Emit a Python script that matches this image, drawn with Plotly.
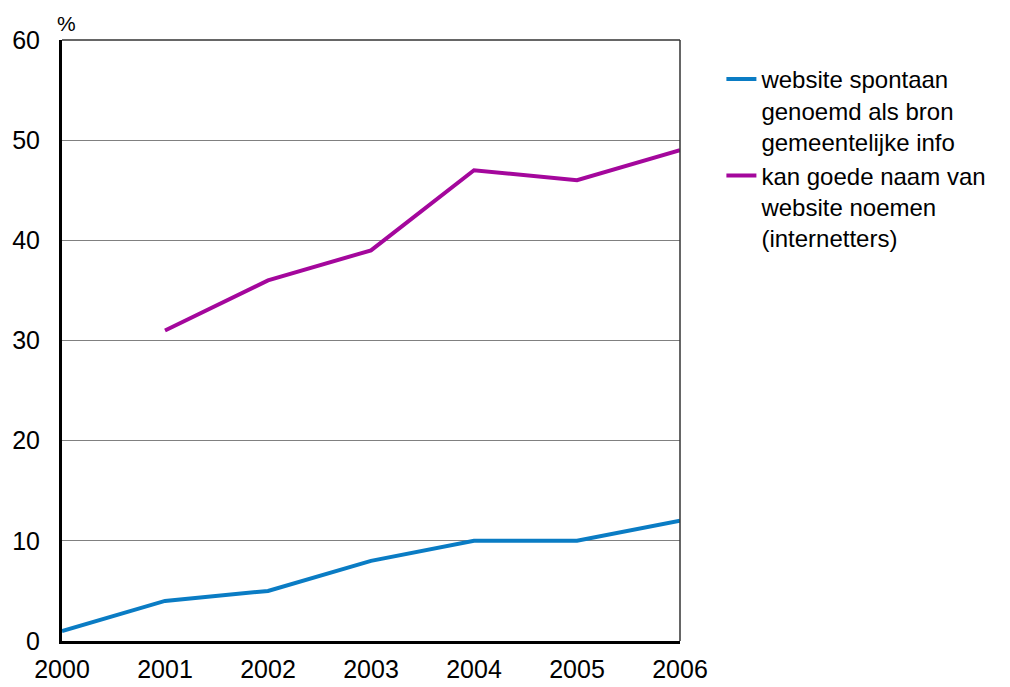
import plotly.graph_objects as go

years = [2000, 2001, 2002, 2003, 2004, 2005, 2006]
website_spontaan = [1, 4, 5, 8, 10, 10, 12]
goede_naam = [None, 31, 36, 39, 47, 46, 49]
names = ["website spontaan<br>genoemd als bron<br>gemeentelijke info",
         "kan goede naam van<br>website noemen<br>(internetters)"]

FONT = "Liberation Sans, Arial, sans-serif"

fig = go.Figure()
fig.add_trace(go.Scatter(x=years, y=website_spontaan, mode="lines", name=names[0],
                         line=dict(color="#0A7CC4", width=4)))
fig.add_trace(go.Scatter(x=years, y=goede_naam, mode="lines", name=names[1],
                         line=dict(color="#A4079C", width=4), connectgaps=False))

fig.update_layout(
    width=1002, height=679,
    margin=dict(l=54, r=330, t=32, b=46, autoexpand=False),
    paper_bgcolor="white", plot_bgcolor="white",
    font=dict(family=FONT, size=25, color="black"),
    showlegend=True,
    legend=dict(x=1.067, y=0.972, xanchor="left", yanchor="top",
                font=dict(size=24), valign="top", tracegroupgap=0,
                itemwidth=30, bgcolor="rgba(0,0,0,0)"),
    xaxis=dict(range=[2000, 2006], tickvals=years, showgrid=False, zeroline=False,
               showline=True, linecolor="black", linewidth=3,
               ticks="outside", ticklen=4, tickcolor="rgba(0,0,0,0)",
               tickfont=dict(size=25)),
    yaxis=dict(range=[0, 60], dtick=10, showgrid=True, gridcolor="#808080", gridwidth=1,
               zeroline=False, showline=True, linecolor="black", linewidth=3,
               ticks="outside", ticklen=14, tickcolor="rgba(0,0,0,0)",
               tickfont=dict(size=25)),
    shapes=[dict(type="line", xref="paper", yref="paper", x0=0, x1=1, y0=1, y1=1,
                 line=dict(color="#333333", width=1.5)),
            dict(type="line", xref="paper", yref="paper", x0=1, x1=1, y0=0, y1=1,
                 line=dict(color="#333333", width=1.5))],
    annotations=[dict(text="%", xref="paper", yref="paper", x=0, y=1, xanchor="left",
                      yanchor="bottom", xshift=-7, yshift=3, showarrow=False,
                      font=dict(size=21))],
)

fig.write_html("out.html")
